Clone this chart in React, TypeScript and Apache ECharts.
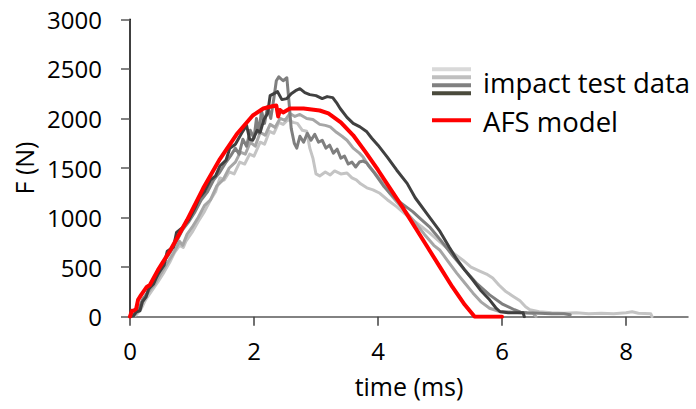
import React, { useEffect, useRef } from 'react';
import * as echarts from 'echarts';

const xTicks = [0, 2, 4, 6, 8];
const yMin = 0;
const yMax = 3000;
const yStep = 500;
const xMax = 9;

const legendTest = 'impact test data';
const legendModel = 'AFS model';

// AFS model
const modelT = [0, 0.03, 0.06, 0.1, 0.13, 0.18, 0.27, 0.32, 0.45, 0.65, 0.92, 1.18, 1.45, 1.72, 1.98, 2.15, 2.31, 2.36, 2.39, 2.42, 2.47, 2.58, 2.8, 3.06, 3.2, 3.4, 3.6, 3.8, 4.0, 4.2, 4.4, 4.6, 4.8, 5.0, 5.2, 5.4, 5.56, 6.0];
const modelF = [0, 60, 60, 80, 170, 220, 300, 320, 470, 670, 975, 1295, 1590, 1840, 2030, 2100, 2125, 2130, 2020, 2085, 2060, 2100, 2100, 2080, 2050, 1960, 1830, 1660, 1480, 1290, 1100, 900, 700, 500, 300, 120, 0, 0];

// test 1 (darkest)
const darkT = [0, 0.06, 0.1, 0.16, 0.2, 0.26, 0.3, 0.38, 0.45, 0.55, 0.6, 0.7, 0.75, 0.85, 0.95, 1.05, 1.12, 1.2, 1.3, 1.38, 1.45, 1.55, 1.61, 1.7, 1.8, 1.88, 1.93, 1.98, 2.05, 2.1, 2.16, 2.22, 2.26, 2.32, 2.38, 2.45, 2.53, 2.6, 2.67, 2.74, 2.82, 2.9, 3.0, 3.1, 3.18, 3.27, 3.33, 3.39, 3.5, 3.6, 3.71, 3.82, 3.9, 4.0, 4.15, 4.3, 4.47, 4.6, 4.8, 5.0, 5.15, 5.27, 5.4, 5.53, 5.65, 5.8, 5.9, 5.97, 6.1, 6.25, 6.34, 6.36];
const darkF = [0, 10, 50, 60, 150, 200, 280, 330, 430, 520, 660, 700, 850, 900, 980, 1100, 1200, 1260, 1380, 1420, 1520, 1580, 1700, 1740, 1850, 1930, 1790, 1780, 1880, 1860, 1990, 2050, 2230, 2250, 2270, 2190, 2200, 2250, 2280, 2300, 2260, 2240, 2230, 2200, 2220, 2210, 2160, 2100, 2010, 1950, 1915, 1865, 1800, 1730, 1610, 1480, 1345, 1200, 1030, 860, 700, 580, 470, 370, 270, 170, 90, 50, 40, 40, 40, 0];

// test 2 (mid grey, spike)
const midT = [0, 0.08, 0.14, 0.2, 0.28, 0.36, 0.45, 0.55, 0.65, 0.75, 0.85, 0.95, 1.05, 1.15, 1.25, 1.35, 1.45, 1.55, 1.62, 1.7, 1.76, 1.82, 1.88, 1.94, 2.0, 2.04, 2.08, 2.12, 2.17, 2.22, 2.27, 2.32, 2.36, 2.4, 2.47, 2.53, 2.56, 2.6, 2.65, 2.69, 2.74, 2.8, 2.86, 2.92, 2.98, 3.04, 3.1, 3.16, 3.22, 3.28, 3.34, 3.4, 3.46, 3.52, 3.58, 3.64, 3.7, 3.76, 3.82, 3.88, 3.94, 4.02, 4.1, 4.2, 4.3, 4.45, 4.56, 4.7, 4.84, 5.0, 5.2, 5.4, 5.6, 5.8, 6.0, 6.2, 6.3, 6.4, 6.6, 6.8, 7.0, 7.1];
const midF = [0, 30, 70, 170, 240, 350, 420, 560, 650, 760, 880, 960, 1060, 1180, 1260, 1380, 1460, 1560, 1620, 1700, 1640, 1790, 1720, 1880, 1800, 2000, 1850, 2080, 1950, 2120, 2000, 2200, 2380, 2420, 2380, 2410, 2200, 1900, 1750, 1700, 1820, 1760, 1850, 1780, 1840, 1760, 1780, 1700, 1730, 1650, 1690, 1600, 1620, 1540, 1560, 1510, 1560, 1570, 1550, 1500, 1450, 1380, 1310, 1240, 1180, 1110, 1060, 980, 900, 780, 620, 470, 330, 220, 130, 70, 45, 40, 35, 30, 30, 20];

// test 3 (light grey)
const lightT = [0, 0.08, 0.15, 0.22, 0.3, 0.4, 0.5, 0.6, 0.7, 0.8, 0.85, 0.92, 1.0, 1.1, 1.2, 1.3, 1.4, 1.5, 1.6, 1.7, 1.78, 1.86, 1.94, 2.02, 2.1, 2.18, 2.26, 2.34, 2.42, 2.5, 2.58, 2.66, 2.74, 2.85, 2.95, 3.06, 3.15, 3.23, 3.33, 3.42, 3.5, 3.6, 3.7, 3.76, 3.85, 3.95, 4.05, 4.19, 4.3, 4.47, 4.6, 4.75, 4.9, 5.0, 5.15, 5.27, 5.4, 5.53, 5.66, 5.8, 5.95, 6.08, 6.3, 6.5, 6.55];
const lightF = [0, 30, 60, 180, 250, 330, 440, 540, 640, 760, 720, 830, 900, 1000, 1120, 1180, 1320, 1380, 1500, 1560, 1660, 1640, 1760, 1720, 1860, 1830, 1940, 1910, 2000, 1980, 2050, 2020, 2040, 2000, 1990, 1940, 1930, 1915, 1860, 1820, 1780, 1700, 1650, 1610, 1520, 1450, 1370, 1245, 1160, 1045, 950, 830, 720, 670, 540, 440, 340, 240, 150, 85, 55, 50, 40, 35, 0];

// test 4 (lightest, long tail)
const palestT = [0, 0.1, 0.18, 0.25, 0.35, 0.45, 0.55, 0.65, 0.72, 0.8, 0.86, 0.9, 1.0, 1.1, 1.2, 1.3, 1.38, 1.45, 1.52, 1.6, 1.68, 1.77, 1.85, 1.93, 2.0, 2.1, 2.17, 2.25, 2.32, 2.4, 2.47, 2.55, 2.63, 2.7, 2.78, 2.85, 2.9, 2.95, 3.0, 3.06, 3.15, 3.23, 3.3, 3.4, 3.5, 3.58, 3.65, 3.72, 3.82, 3.92, 4.03, 4.15, 4.3, 4.43, 4.56, 4.7, 4.84, 4.97, 5.1, 5.24, 5.37, 5.5, 5.64, 5.75, 5.85, 5.95, 6.05, 6.17, 6.29, 6.38, 6.45, 6.6, 6.8, 7.0, 7.2, 7.4, 7.6, 7.8, 8.0, 8.1, 8.2, 8.4, 8.42];
const palestF = [0, 20, 80, 170, 260, 350, 450, 560, 650, 720, 700, 760, 850, 960, 1060, 1180, 1260, 1400, 1380, 1460, 1440, 1560, 1540, 1640, 1620, 1760, 1740, 1870, 1850, 1960, 1940, 1990, 1960, 1950, 1880, 1870, 1700, 1600, 1440, 1420, 1460, 1430, 1470, 1440, 1450, 1400, 1380, 1340, 1300, 1280, 1245, 1180, 1110, 1040, 975, 910, 840, 770, 700, 630, 570, 500, 460, 430, 390, 320, 260, 210, 160, 100, 70, 50, 40, 35, 40, 30, 35, 30, 40, 50, 35, 30, 0];

const legendIconColors = ['#d9d9d9', '#bfbfbf', '#808080', '#4a4a3c'];

const pairs = (t: number[], f: number[]) => t.map((v, i) => [v, f[i]]);

const FONT = 'Open Sans';

export default function App() {
  const ref = useRef<HTMLDivElement>(null);
  useEffect(() => {
    if (!ref.current) return;
    const chart = echarts.init(ref.current, undefined, { renderer: 'svg' });
    const lineSeries = (name: string, t: number[], f: number[], color: string, width: number, z: number) => ({
      type: 'line',
      name,
      data: pairs(t, f),
      showSymbol: false,
      symbol: 'none',
      silent: true,
      z,
      lineStyle: { color, width, join: 'round', cap: 'round' },
    });
    const iconX1 = 432;
    const iconX2 = 471;
    const iconYs = [69.3, 77.3, 85.3, 93.3];
    chart.setOption({
      animation: false,
      grid: { left: 130, right: 8, top: 19.3, bottom: 92.3 },
      xAxis: {
        type: 'value',
        min: 0,
        max: xMax,
        interval: 2,
        name: 'time (ms)',
        nameLocation: 'middle',
        nameGap: 57,
        nameTextStyle: { fontFamily: FONT, fontSize: 25, color: '#000' },
        axisLine: { show: true, lineStyle: { color: '#595959', width: 1.5 } },
        axisTick: { show: true, length: 9, lineStyle: { color: '#404040', width: 1.5 }, customValues: xTicks },
        axisLabel: { fontFamily: FONT, fontSize: 24, color: '#000', margin: 22, customValues: xTicks },
        splitLine: { show: false },
      },
      yAxis: {
        type: 'value',
        min: yMin,
        max: yMax,
        interval: yStep,
        name: 'F (N)',
        nameLocation: 'middle',
        nameGap: 90,
        nameRotate: 90,
        nameTextStyle: { fontFamily: FONT, fontSize: 25, color: '#000' },
        axisLine: { show: true, lineStyle: { color: '#000', width: 1.5 } },
        axisTick: { show: true, length: 9, lineStyle: { color: '#595959', width: 1.5 } },
        axisLabel: { fontFamily: FONT, fontSize: 24, color: '#000', margin: 28, formatter: (v: number) => String(v) },
        splitLine: { show: false },
      },
      series: [
        lineSeries('test 4', palestT, palestF, '#c4c4c4', 3, 2),
        lineSeries('test 3', lightT, lightF, '#a6a6a6', 3, 3),
        lineSeries('test 2', midT, midF, '#7f7f7f', 3, 4),
        lineSeries('test 1', darkT, darkF, '#404040', 3, 5),
        lineSeries(legendModel, modelT, modelF, '#ff0000', 4, 10),
      ],
      graphic: [
        ...iconYs.map((y, i) => ({
          type: 'line',
          shape: { x1: iconX1, y1: y, x2: iconX2, y2: y },
          style: { stroke: legendIconColors[i], lineWidth: 4 },
          silent: true,
        })),
        {
          type: 'line',
          shape: { x1: iconX1, y1: 120.3, x2: iconX2, y2: 120.3 },
          style: { stroke: '#ff0000', lineWidth: 4 },
          silent: true,
        },
        {
          type: 'text',
          x: 483,
          y: 82,
          style: { text: legendTest, fontFamily: FONT, fontSize: 27.5, fill: '#000', align: 'left', verticalAlign: 'middle' },
          silent: true,
        },
        {
          type: 'text',
          x: 483,
          y: 121,
          style: { text: legendModel, fontFamily: FONT, fontSize: 27.5, fill: '#000', align: 'left', verticalAlign: 'middle' },
          silent: true,
        },
      ],
    });
    return () => chart.dispose();
  }, []);
  return <div ref={ref} style={{ position: 'fixed', left: 0, top: 0, width: 696, height: 409, background: '#fff' }} />;
}
